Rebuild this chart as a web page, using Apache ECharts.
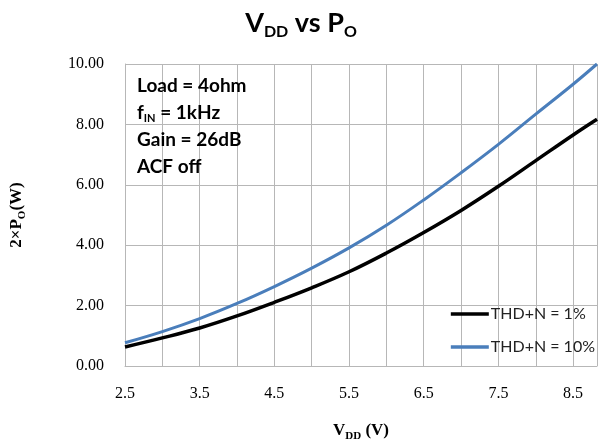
<!DOCTYPE html>
<html>
<head>
<meta charset="utf-8">
<script src="https://cdn.jsdelivr.net/npm/echarts@6/dist/echarts.min.js"></script>
<style>
  html, body { margin: 0; padding: 0; background: #fff; }
  #chart { width: 602px; height: 443px; }
</style>
</head>
<body>
<div id="chart"></div>
<script>
// Supply voltage (V) at each measured point
const vdd = [2.5, 3.0, 3.5, 4.0, 4.5, 5.0, 5.5, 6.0, 6.5, 7.0, 7.5, 8.0, 8.5, 8.82];
// Output power 2xPo (W) at THD+N = 1%
const thd1 = [0.63, 0.93, 1.26, 1.66, 2.11, 2.59, 3.12, 3.74, 4.42, 5.15, 5.95, 6.80, 7.65, 8.17];
// Output power 2xPo (W) at THD+N = 10%
const thd10 = [0.77, 1.14, 1.57, 2.07, 2.63, 3.24, 3.91, 4.66, 5.50, 6.40, 7.34, 8.34, 9.33, 10.0];
const seriesNames = ['THD+N = 1%', 'THD+N = 10%'];
// Test conditions printed inside the plot
const conditions = ['{m|Load = 4ohm}', '{m|f}{s|IN}{m| = 1kHz}', '{m|Gain = 26dB}', '{m|ACF off}'];

const sans = 'Lato, "Open Sans", sans-serif';
const serif = '"Liberation Serif", "DejaVu Serif", serif';
const gridColor = '#b7b7b7';

// rich styles for bold serif axis names with a lowered subscript
const serifRich = {
  m: { fontFamily: serif, fontWeight: 'bold', fontSize: 17, lineHeight: 20, color: '#000' },
  s: { fontFamily: serif, fontWeight: 'bold', fontSize: 11, lineHeight: 12, padding: [10, 0, 0, 0], color: '#000' }
};

const chart = echarts.init(document.getElementById('chart'));

const pairs = arr => vdd.map((v, i) => [v, arr[i]]);

chart.setOption({
  animation: false,
  backgroundColor: '#fff',
  title: {
    text: '{a|V}{b|DD}{a| vs P}{b|O}',
    left: 'center',
    top: 2,
    textStyle: {
      rich: {
        a: { fontFamily: sans, fontWeight: 'bold', fontSize: 27, lineHeight: 32, color: '#000' },
        b: { fontFamily: sans, fontWeight: 'bold', fontSize: 16, lineHeight: 18, padding: [18, 0, 0, 0], color: '#000' }
      }
    }
  },
  grid: { left: 125, right: 5, top: 64, bottom: 77, outerBoundsMode: 'none' },
  legend: {
    orient: 'vertical',
    right: 2,
    top: 301,
    itemWidth: 38,
    itemHeight: 3.5,
    itemGap: 17,
    icon: 'rect',
    data: seriesNames,
    textStyle: { fontFamily: sans, fontSize: 16, color: '#222', padding: [0, 0, 0, -3] }
  },
  xAxis: {
    type: 'value',
    min: 2.5,
    max: 8.82,
    interval: 0.5,
    name: '{m|V}{s|DD}{m| (V)}',
    nameLocation: 'middle',
    nameGap: 55,
    nameTextStyle: { rich: serifRich },
    axisLine: { lineStyle: { color: gridColor, width: 1 } },
    axisTick: { show: false },
    axisLabel: {
      margin: 20,
      fontFamily: serif,
      fontSize: 16,
      color: '#000',
      showMaxLabel: false,
      formatter: v => (Math.abs((v - 2.5) % 1) < 1e-6 ? v.toFixed(1) : '')
    },
    splitLine: { show: true, lineStyle: { color: gridColor, width: 1 } }
  },
  yAxis: {
    type: 'value',
    min: 0,
    max: 10,
    interval: 2,
    name: '{m|2×P}{s|O}{m|(W)}',
    nameLocation: 'middle',
    nameRotate: 90,
    nameGap: 98,
    nameTextStyle: { rich: serifRich },
    axisLine: { show: true, lineStyle: { color: gridColor, width: 1 } },
    axisTick: { show: false },
    axisLabel: {
      margin: 21,
      fontFamily: serif,
      fontSize: 16,
      color: '#000',
      formatter: v => v.toFixed(2)
    },
    splitLine: { show: true, lineStyle: { color: gridColor, width: 1 } }
  },
  graphic: [{
    type: 'text',
    left: 137,
    top: 76,
    z: 10,
    style: {
      text: conditions.join('\n'),
      rich: {
        m: { fontFamily: sans, fontWeight: 'bold', fontSize: 19, lineHeight: 27, fill: '#000' },
        s: { fontFamily: sans, fontWeight: 'bold', fontSize: 11, lineHeight: 12, padding: [11, 0, 0, 0], fill: '#000' }
      }
    }
  }],
  series: [
    {
      name: seriesNames[0],
      type: 'line',
      data: pairs(thd1),
      smooth: 0.4,
      symbol: 'none',
      lineStyle: { color: '#000', width: 3.5 },
      itemStyle: { color: '#000' }
    },
    {
      name: seriesNames[1],
      type: 'line',
      data: pairs(thd10),
      smooth: 0.4,
      symbol: 'none',
      lineStyle: { color: '#4a7ebb', width: 3 },
      itemStyle: { color: '#4a7ebb' }
    }
  ]
});
</script>
</body>
</html>
